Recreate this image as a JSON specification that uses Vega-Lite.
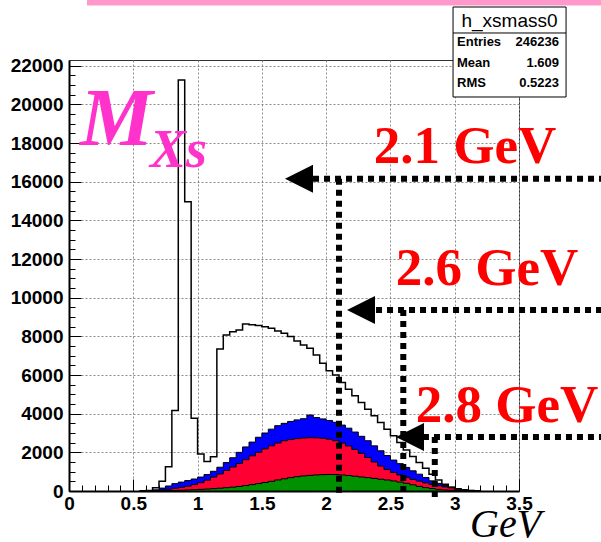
{
  "$schema": "https://vega.github.io/schema/vega-lite/v6.json",
  "width": 450,
  "height": 431,
  "autosize": {"type": "none"},
  "padding": {"left": 69, "top": 60, "right": 82, "bottom": 51},
  "background": "white",
  "config": {"view": {"stroke": "#333", "strokeWidth": 1}, "font": "Liberation Sans"},
  "datasets": {
    "hist": [
      {"x": 0.55, "t": 0, "b": 0, "r": 0, "g": 0},
      {"x": 0.60, "t": 30, "b": 20, "r": 10, "g": 0},
      {"x": 0.65, "t": 170, "b": 60, "r": 25, "g": 5},
      {"x": 0.70, "t": 510, "b": 150, "r": 50, "g": 10},
      {"x": 0.75, "t": 1260, "b": 260, "r": 90, "g": 20},
      {"x": 0.80, "t": 4160, "b": 380, "r": 140, "g": 30},
      {"x": 0.85, "t": 21270, "b": 460, "r": 190, "g": 40},
      {"x": 0.90, "t": 14960, "b": 540, "r": 250, "g": 55},
      {"x": 0.95, "t": 3760, "b": 620, "r": 330, "g": 70},
      {"x": 1.00, "t": 1915, "b": 720, "r": 430, "g": 85},
      {"x": 1.05, "t": 1520, "b": 850, "r": 560, "g": 100},
      {"x": 1.10, "t": 1775, "b": 1020, "r": 720, "g": 120},
      {"x": 1.15, "t": 7350, "b": 1230, "r": 880, "g": 145},
      {"x": 1.20, "t": 8075, "b": 1470, "r": 1060, "g": 170},
      {"x": 1.25, "t": 8245, "b": 1720, "r": 1240, "g": 200},
      {"x": 1.30, "t": 8330, "b": 2000, "r": 1420, "g": 235},
      {"x": 1.35, "t": 8640, "b": 2280, "r": 1620, "g": 280},
      {"x": 1.40, "t": 8600, "b": 2530, "r": 1820, "g": 330},
      {"x": 1.45, "t": 8560, "b": 2780, "r": 2000, "g": 385},
      {"x": 1.50, "t": 8500, "b": 3000, "r": 2180, "g": 440},
      {"x": 1.55, "t": 8420, "b": 3200, "r": 2340, "g": 500},
      {"x": 1.60, "t": 8280, "b": 3380, "r": 2480, "g": 570},
      {"x": 1.65, "t": 8160, "b": 3500, "r": 2600, "g": 630},
      {"x": 1.70, "t": 7990, "b": 3600, "r": 2660, "g": 690},
      {"x": 1.75, "t": 7760, "b": 3680, "r": 2710, "g": 740},
      {"x": 1.80, "t": 7560, "b": 3740, "r": 2740, "g": 780},
      {"x": 1.85, "t": 7380, "b": 3930, "r": 2760, "g": 810},
      {"x": 1.90, "t": 7040, "b": 3800, "r": 2750, "g": 830},
      {"x": 1.95, "t": 6610, "b": 3730, "r": 2730, "g": 845},
      {"x": 2.00, "t": 6220, "b": 3650, "r": 2680, "g": 855},
      {"x": 2.05, "t": 6000, "b": 3555, "r": 2600, "g": 850},
      {"x": 2.10, "t": 5620, "b": 3410, "r": 2480, "g": 830},
      {"x": 2.15, "t": 5270, "b": 3250, "r": 2330, "g": 800},
      {"x": 2.20, "t": 4925, "b": 3050, "r": 2150, "g": 765},
      {"x": 2.25, "t": 4580, "b": 2830, "r": 1950, "g": 725},
      {"x": 2.30, "t": 4235, "b": 2600, "r": 1730, "g": 690},
      {"x": 2.35, "t": 3890, "b": 2335, "r": 1500, "g": 650},
      {"x": 2.40, "t": 3545, "b": 2080, "r": 1290, "g": 610},
      {"x": 2.45, "t": 3200, "b": 1835, "r": 1110, "g": 570},
      {"x": 2.50, "t": 2855, "b": 1600, "r": 960, "g": 520},
      {"x": 2.55, "t": 2510, "b": 1415, "r": 830, "g": 460},
      {"x": 2.60, "t": 2120, "b": 1220, "r": 710, "g": 400},
      {"x": 2.65, "t": 1790, "b": 1045, "r": 600, "g": 320},
      {"x": 2.70, "t": 1475, "b": 870, "r": 510, "g": 240},
      {"x": 2.75, "t": 1175, "b": 700, "r": 420, "g": 175},
      {"x": 2.80, "t": 870, "b": 525, "r": 340, "g": 125},
      {"x": 2.85, "t": 570, "b": 395, "r": 270, "g": 85},
      {"x": 2.90, "t": 345, "b": 285, "r": 210, "g": 55},
      {"x": 2.95, "t": 200, "b": 200, "r": 160, "g": 35},
      {"x": 3.00, "t": 100, "b": 125, "r": 110, "g": 20},
      {"x": 3.05, "t": 50, "b": 60, "r": 50, "g": 10},
      {"x": 3.10, "t": 25, "b": 30, "r": 25, "g": 5},
      {"x": 3.15, "t": 10, "b": 12, "r": 10, "g": 2},
      {"x": 3.20, "t": 0, "b": 0, "r": 0, "g": 0}
    ],
    "cuts": [
      {"x": 1.898, "x2": 4.14, "y": 16150, "y2": 16150},
      {"x": 2.1, "x2": 2.1, "y": 16150, "y2": -310},
      {"x": 2.388, "x2": 4.14, "y": 9365, "y2": 9365},
      {"x": 2.6, "x2": 2.6, "y": 9365, "y2": 0},
      {"x": 2.753, "x2": 4.14, "y": 2794, "y2": 2794},
      {"x": 2.845, "x2": 2.845, "y": 2794, "y2": -310}
    ],
    "arrows": [
      {"x": 1.789, "y": 16150},
      {"x": 2.271, "y": 9365},
      {"x": 2.652, "y": 2794}
    ],
    "cutLabels": [
      {"x": 3.08, "y": 16971, "t": "2.1 GeV"},
      {"x": 3.251, "y": 10659, "t": "2.6 GeV"},
      {"x": 3.407, "y": 3570, "t": "2.8 GeV"}
    ],
    "stats": [
      {"k": "Entries", "v": "246236", "xl": 3.018, "xr": 3.811, "y": 23024},
      {"k": "Mean", "v": "1.609", "xl": 3.018, "xr": 3.811, "y": 21953},
      {"k": "RMS", "v": "0.5223", "xl": 3.018, "xr": 3.811, "y": 20919}
    ]
  },
  "resolve": {"axis": {"x": "independent", "y": "independent"}},
  "layer": [
    {
      "data": {"name": "hist"},
      "mark": {"type": "area", "interpolate": "step-after", "fill": "#0000ff", "stroke": "#000", "strokeWidth": 1},
      "encoding": {
        "x": {"field": "x", "type": "quantitative", "scale": {"domain": [0, 3.5], "nice": false, "zero": false},
          "axis": {"orient": "bottom", "values": [0, 0.5, 1, 1.5, 2, 2.5, 3, 3.5], "format": "~g", "ticks": false, "domain": false, "grid": true, "gridColor": "#8a8a8a", "gridDash": [2, 2], "gridWidth": 1, "labelFont": "Liberation Sans", "labelFontWeight": "bold", "labelFontSize": 19, "labelColor": "#000", "labelPadding": 3, "labelFlush": false, "labelOverlap": false, "title": null}},
        "y": {"field": "b", "type": "quantitative", "scale": {"domain": [0, 22300], "nice": false},
          "axis": {"orient": "left", "values": [0, 2000, 4000, 6000, 8000, 10000, 12000, 14000, 16000, 18000, 20000, 22000], "format": "d", "ticks": false, "domain": false, "grid": true, "gridColor": "#8a8a8a", "gridDash": [2, 2], "gridWidth": 1, "labelFont": "Liberation Sans", "labelFontWeight": "bold", "labelFontSize": 19, "labelColor": "#000", "labelPadding": 6, "labelOverlap": false, "title": null}}
      }
    },
    {
      "data": {"name": "hist"},
      "mark": {"type": "area", "interpolate": "step-after", "fill": "#ff0033", "stroke": "#000", "strokeWidth": 1},
      "encoding": {
        "x": {"field": "x", "type": "quantitative", "scale": {"domain": [0, 3.5], "nice": false, "zero": false},
          "axis": {"orient": "bottom", "values": [0, 0.5, 1, 1.5, 2, 2.5, 3, 3.5], "ticks": true, "tickSize": -12, "tickColor": "#000", "tickWidth": 1, "labels": false, "grid": false, "domain": true, "domainColor": "#000", "domainWidth": 2, "title": null}},
        "y": {"field": "r", "type": "quantitative", "scale": {"domain": [0, 22300], "nice": false},
          "axis": {"orient": "left", "values": [0, 2000, 4000, 6000, 8000, 10000, 12000, 14000, 16000, 18000, 20000, 22000], "ticks": true, "tickSize": -12, "tickColor": "#000", "tickWidth": 1, "labels": false, "grid": false, "domain": true, "domainColor": "#000", "domainWidth": 2, "title": null}}
      }
    },
    {
      "data": {"name": "hist"},
      "mark": {"type": "area", "interpolate": "step-after", "fill": "#009000", "stroke": "#000", "strokeWidth": 1},
      "encoding": {
        "x": {"field": "x", "type": "quantitative", "scale": {"domain": [0, 3.5], "nice": false, "zero": false},
          "axis": {"orient": "bottom", "values": [0.1, 0.2, 0.3, 0.4, 0.6, 0.7, 0.8, 0.9, 1.1, 1.2, 1.3, 1.4, 1.6, 1.7, 1.8, 1.9, 2.1, 2.2, 2.3, 2.4, 2.6, 2.7, 2.8, 2.9, 3.1, 3.2, 3.3, 3.4], "ticks": true, "tickSize": -6, "tickColor": "#000", "tickWidth": 1, "labels": false, "grid": false, "domain": false, "title": null}},
        "y": {"field": "g", "type": "quantitative", "scale": {"domain": [0, 22300], "nice": false},
          "axis": {"orient": "left", "values": [500, 1000, 1500, 2500, 3000, 3500, 4500, 5000, 5500, 6500, 7000, 7500, 8500, 9000, 9500, 10500, 11000, 11500, 12500, 13000, 13500, 14500, 15000, 15500, 16500, 17000, 17500, 18500, 19000, 19500, 20500, 21000, 21500], "ticks": true, "tickSize": -6, "tickColor": "#000", "tickWidth": 1, "labels": false, "grid": false, "domain": false, "title": null}}
      }
    },
    {
      "data": {"name": "hist"},
      "mark": {"type": "line", "interpolate": "step-after", "stroke": "#000", "strokeWidth": 1.5},
      "encoding": {
        "x": {"field": "x", "type": "quantitative", "scale": {"domain": [0, 3.5], "nice": false, "zero": false}, "axis": null},
        "y": {"field": "t", "type": "quantitative", "scale": {"domain": [0, 22300], "nice": false}, "axis": null}
      }
    },
    {
      "data": {"name": "cuts"},
      "mark": {"type": "rule", "stroke": "#000", "strokeWidth": 6, "strokeDash": [6, 5], "strokeCap": "butt"},
      "encoding": {
        "x": {"field": "x", "type": "quantitative", "scale": {"domain": [0, 3.5], "nice": false, "zero": false}, "axis": null},
        "x2": {"field": "x2"},
        "y": {"field": "y", "type": "quantitative", "scale": {"domain": [0, 22300], "nice": false}, "axis": null},
        "y2": {"field": "y2"}
      }
    },
    {
      "data": {"name": "arrows"},
      "mark": {"type": "point", "shape": "M-1,0L1,-1L1,1Z", "size": 784, "filled": true, "fill": "#000", "stroke": null, "opacity": 1},
      "encoding": {
        "x": {"field": "x", "type": "quantitative", "scale": {"domain": [0, 3.5], "nice": false, "zero": false}, "axis": null},
        "y": {"field": "y", "type": "quantitative", "scale": {"domain": [0, 22300], "nice": false}, "axis": null}
      }
    },
    {
      "data": {"name": "cutLabels"},
      "mark": {"type": "text", "font": "Liberation Serif", "fontWeight": "bold", "fontSize": 53, "fill": "#ff0000", "align": "center", "baseline": "alphabetic"},
      "encoding": {
        "x": {"field": "x", "type": "quantitative", "scale": {"domain": [0, 3.5], "nice": false, "zero": false}, "axis": null},
        "y": {"field": "y", "type": "quantitative", "scale": {"domain": [0, 22300], "nice": false}, "axis": null},
        "text": {"field": "t"}
      }
    },
    {
      "data": {"values": [{"x": 0.086, "y": 17902, "t": "M"}]},
      "mark": {"type": "text", "font": "Liberation Serif", "fontWeight": "bold", "fontStyle": "italic", "fontSize": 82, "fill": "#ff33cc", "align": "left", "baseline": "alphabetic"},
      "encoding": {
        "x": {"field": "x", "type": "quantitative", "scale": {"domain": [0, 3.5], "nice": false, "zero": false}, "axis": null},
        "y": {"field": "y", "type": "quantitative", "scale": {"domain": [0, 22300], "nice": false}, "axis": null},
        "text": {"field": "t"}
      }
    },
    {
      "data": {"values": [{"x": 0.63, "y": 16764, "t": "Xs"}]},
      "mark": {"type": "text", "font": "Liberation Serif", "fontWeight": "bold", "fontStyle": "italic", "fontSize": 54, "fill": "#ff33cc", "align": "left", "baseline": "alphabetic"},
      "encoding": {
        "x": {"field": "x", "type": "quantitative", "scale": {"domain": [0, 3.5], "nice": false, "zero": false}, "axis": null},
        "y": {"field": "y", "type": "quantitative", "scale": {"domain": [0, 22300], "nice": false}, "axis": null},
        "text": {"field": "t"}
      }
    },
    {
      "data": {"values": [{"x": 3.119, "y": -2380, "t": "GeV"}]},
      "mark": {"type": "text", "font": "Liberation Serif", "fontStyle": "italic", "fontSize": 40, "fill": "#000", "align": "left", "baseline": "alphabetic"},
      "encoding": {
        "x": {"field": "x", "type": "quantitative", "scale": {"domain": [0, 3.5], "nice": false, "zero": false}, "axis": null},
        "y": {"field": "y", "type": "quantitative", "scale": {"domain": [0, 22300], "nice": false}, "axis": null},
        "text": {"field": "t"}
      }
    },
    {
      "data": {"values": [{"x": 0.14, "x2": 4.14, "y": 25404, "y2": 25120}]},
      "mark": {"type": "rect", "fill": "#ff99cc"},
      "encoding": {
        "x": {"field": "x", "type": "quantitative", "scale": {"domain": [0, 3.5], "nice": false, "zero": false}, "axis": null},
        "x2": {"field": "x2"},
        "y": {"field": "y", "type": "quantitative", "scale": {"domain": [0, 22300], "nice": false}, "axis": null},
        "y2": {"field": "y2"}
      }
    },
    {
      "data": {"values": [{"x": 2.987, "x2": 3.866, "y": 25042, "y2": 20386}]},
      "mark": {"type": "rect", "fill": "#fff", "stroke": "#000", "strokeWidth": 1},
      "encoding": {
        "x": {"field": "x", "type": "quantitative", "scale": {"domain": [0, 3.5], "nice": false, "zero": false}, "axis": null},
        "x2": {"field": "x2"},
        "y": {"field": "y", "type": "quantitative", "scale": {"domain": [0, 22300], "nice": false}, "axis": null},
        "y2": {"field": "y2"}
      }
    },
    {
      "data": {"values": [{"x": 2.987, "x2": 3.866, "y": 23697}]},
      "mark": {"type": "rule", "stroke": "#000", "strokeWidth": 1},
      "encoding": {
        "x": {"field": "x", "type": "quantitative", "scale": {"domain": [0, 3.5], "nice": false, "zero": false}, "axis": null},
        "x2": {"field": "x2"},
        "y": {"field": "y", "type": "quantitative", "scale": {"domain": [0, 22300], "nice": false}, "axis": null}
      }
    },
    {
      "data": {"values": [{"x": 3.426, "y": 24007, "t": "h_xsmass0"}]},
      "mark": {"type": "text", "font": "Liberation Sans", "fontSize": 19, "fill": "#000", "align": "center", "baseline": "alphabetic"},
      "encoding": {
        "x": {"field": "x", "type": "quantitative", "scale": {"domain": [0, 3.5], "nice": false, "zero": false}, "axis": null},
        "y": {"field": "y", "type": "quantitative", "scale": {"domain": [0, 22300], "nice": false}, "axis": null},
        "text": {"field": "t"}
      }
    },
    {
      "data": {"name": "stats"},
      "mark": {"type": "text", "font": "Liberation Sans", "fontWeight": "bold", "fontSize": 13, "fill": "#000", "align": "left", "baseline": "alphabetic"},
      "encoding": {
        "x": {"field": "xl", "type": "quantitative", "scale": {"domain": [0, 3.5], "nice": false, "zero": false}, "axis": null},
        "y": {"field": "y", "type": "quantitative", "scale": {"domain": [0, 22300], "nice": false}, "axis": null},
        "text": {"field": "k"}
      }
    },
    {
      "data": {"name": "stats"},
      "mark": {"type": "text", "font": "Liberation Sans", "fontWeight": "bold", "fontSize": 13, "fill": "#000", "align": "right", "baseline": "alphabetic"},
      "encoding": {
        "x": {"field": "xr", "type": "quantitative", "scale": {"domain": [0, 3.5], "nice": false, "zero": false}, "axis": null},
        "y": {"field": "y", "type": "quantitative", "scale": {"domain": [0, 22300], "nice": false}, "axis": null},
        "text": {"field": "v"}
      }
    }
  ]
}
